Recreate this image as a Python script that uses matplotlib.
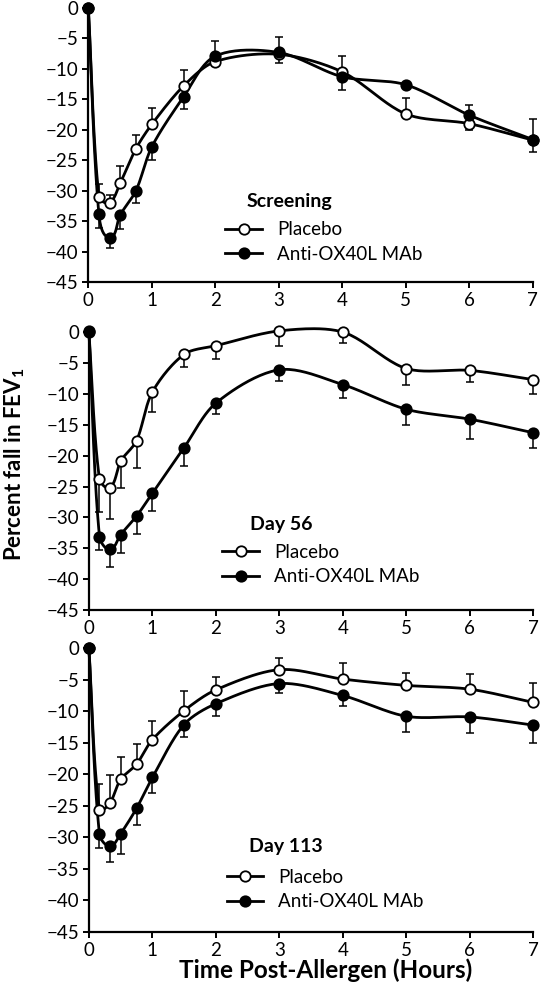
import numpy as np
import matplotlib.pyplot as plt
from matplotlib.lines import Line2D

plt.rcParams['font.family'] = ['Lato', 'DejaVu Sans']
plt.rcParams['mathtext.fontset'] = 'custom'
plt.rcParams['mathtext.rm'] = 'Lato'
plt.rcParams['mathtext.bf'] = 'Lato:bold'

# time points (hours)
hours = [0, 1/6, 1/3, 0.5, 0.75, 1, 1.5, 2, 3, 4, 5, 6, 7]

# Screening
scr_placebo = [0, -31.0, -32.0, -28.8, -23.1, -19.1, -12.8, -8.8, -7.6, -10.5, -17.4, -19.0, -21.7]
scr_placebo_lo = [0, 0, 0, 0, 0, 0, 0, 0.7, 1.4, 0, 0, 1.1, 0]
scr_placebo_hi = [0, 2.1, 1.3, 2.9, 2.2, 2.6, 2.6, 0, 0, 2.6, 2.6, 0, 3.5]
scr_anti = [0, -33.9, -37.7, -34.0, -30.0, -22.8, -14.6, -7.9, -7.3, -11.3, -12.6, -17.6, -21.6]
scr_anti_lo = [0, 2.2, 1.8, 2.3, 2.1, 2.2, 2.0, 0, 0, 2.1, 0, 0, 2.0]
scr_anti_hi = [0, 0, 0, 0, 0, 0, 0, 2.4, 2.5, 0, 0, 1.7, 0]

# Day 56
d56_placebo = [0, -23.8, -25.2, -20.9, -17.6, -9.7, -3.6, -2.2, 0.2, 0, -5.9, -6.2, -7.7]
d56_placebo_lo = [0, 5.3, 5.1, 4.3, 4.4, 3.2, 2.0, 2.2, 2.4, 1.8, 2.6, 1.8, 2.3]
d56_placebo_hi = [0] * 13
d56_anti = [0.2, -33.1, -35.2, -32.8, -29.8, -26.1, -18.7, -11.5, -6.1, -8.5, -12.5, -14.1, -16.3]
d56_anti_lo = [0, 2.2, 2.9, 3.0, 2.9, 2.8, 3.0, 1.8, 1.8, 2.2, 2.5, 3.2, 2.4]
d56_anti_hi = [0] * 13

# Day 113
d113_placebo = [0, -25.7, -24.5, -20.8, -18.4, -14.5, -9.9, -6.6, -3.4, -4.9, -5.9, -6.5, -8.6]
d113_placebo_lo = [0] * 13
d113_placebo_hi = [0, 4.1, 4.4, 3.5, 3.2, 2.9, 3.1, 2.0, 1.9, 2.6, 2.0, 2.4, 3.1]
d113_anti = [0, -29.5, -31.4, -29.4, -25.4, -20.5, -12.1, -8.8, -5.6, -7.5, -10.8, -10.9, -12.2]
d113_anti_lo = [0, 2.2, 2.5, 3.2, 2.7, 2.5, 2.0, 1.9, 1.5, 1.7, 2.5, 2.6, 2.9]
d113_anti_hi = [0] * 13

titles = ['Screening', 'Day 56', 'Day 113']
labels = ['Placebo', 'Anti-OX40L MAb']


def smooth(x, y, sx=63.6, sy=6.2, n=25, k=0.3):
    # bezier smoothing like Excel's smoothed lines; tangent length scaled
    # by segment length so the steep first drop doesn't overshoot
    P = np.column_stack([np.asarray(x) * sx, np.asarray(y) * sy])
    Pad = np.vstack([P[0], P, P[-1]])
    t = np.linspace(0, 1, n)[:, None]
    out = []
    for i in range(len(P) - 1):
        p0, p1, p2, p3 = Pad[i], Pad[i + 1], Pad[i + 2], Pad[i + 3]
        d = np.linalg.norm(p2 - p1)
        u1 = p2 - p0
        u2 = p3 - p1
        u1 = u1 / (np.linalg.norm(u1) or 1)
        u2 = u2 / (np.linalg.norm(u2) or 1)
        c1 = p1 + u1 * d * k
        c2 = p2 - u2 * d * k
        seg = (1 - t)**3 * p1 + 3 * (1 - t)**2 * t * c1 + 3 * (1 - t) * t**2 * c2 + t**3 * p2
        out.append(seg if i == 0 else seg[1:])
    pts = np.vstack(out)
    return pts[:, 0] / sx, pts[:, 1] / sy


panels = [
    (scr_placebo, scr_placebo_lo, scr_placebo_hi, scr_anti, scr_anti_lo, scr_anti_hi),
    (d56_placebo, d56_placebo_lo, d56_placebo_hi, d56_anti, d56_anti_lo, d56_anti_hi),
    (d113_placebo, d113_placebo_lo, d113_placebo_hi, d113_anti, d113_anti_lo, d113_anti_hi),
]

# axes rects in figure fraction
rects = [
    [0.163, 0.7149, 0.820, 0.277],
    [0.164, 0.3832, 0.820, 0.281],
    [0.164, 0.0576, 0.820, 0.287],
]
# (title x, title y, legend x, legend y) in axes fraction
leg_pos = [
    (0.357, 0.295, 0.308, 0.145),
    (0.362, 0.309, 0.300, 0.163),
    (0.360, 0.300, 0.310, 0.150),
]

fig = plt.figure(figsize=(5.42, 9.89), dpi=100)

for k, (pl, pl_lo, pl_hi, an, an_lo, an_hi) in enumerate(panels):
    ax = fig.add_axes(rects[k])

    ax.errorbar(hours, pl, yerr=[pl_lo, pl_hi], fmt='none', ecolor='black',
                elinewidth=1.1, capsize=3, capthick=1.1, clip_on=False, zorder=2)
    ax.errorbar(hours, an, yerr=[an_lo, an_hi], fmt='none', ecolor='black',
                elinewidth=1.1, capsize=3, capthick=1.1, clip_on=False, zorder=2)

    sx, sy = smooth(hours, pl)
    ax.plot(sx, sy, color='black', lw=2, clip_on=False, zorder=3)
    sx, sy = smooth(hours, an)
    ax.plot(sx, sy, color='black', lw=2, clip_on=False, zorder=3)

    ax.plot(hours, pl, 'o', ms=7.5, mfc='white', mec='black', mew=1.3,
            clip_on=False, zorder=4)
    ax.plot(hours, an, 'o', ms=7.5, mfc='black', mec='black', mew=1.3,
            clip_on=False, zorder=5)

    ax.set_xlim(0, 7)
    ax.set_ylim(-45, 0)
    ax.set_xticks(range(8))
    ax.set_yticks(np.arange(0, -46, -5))
    ax.spines['top'].set_visible(False)
    ax.spines['right'].set_visible(False)
    ax.spines['left'].set_linewidth(1.6)
    ax.spines['bottom'].set_linewidth(1.6)
    ax.tick_params(direction='out', length=4, width=1.4, labelsize=13.5, pad=3)

    tx, ty, lx, ly = leg_pos[k]
    ax.text(tx, ty, titles[k], transform=ax.transAxes, fontsize=14,
            fontweight='bold', va='center', ha='left')
    handles = [
        Line2D([], [], color='black', lw=2, marker='o', ms=7.5, mfc='white', mec='black', mew=1.3),
        Line2D([], [], color='black', lw=2, marker='o', ms=7.5, mfc='black', mec='black', mew=1.3),
    ]
    ax.legend(handles, labels, loc='center left', bbox_to_anchor=(lx, ly),
              frameon=False, fontsize=13.5, handlelength=1.95, handletextpad=0.8,
              labelspacing=0.4, borderpad=0, borderaxespad=0)

fig.text(0.028, 0.53, r'Percent fall in FEV$_\mathbf{1}$', rotation=90,
         fontsize=16, fontweight='bold', ha='center', va='center')
fig.text(0.60, 0.019, 'Time Post-Allergen (Hours)', fontsize=17.5,
         fontweight='bold', ha='center', va='center')

fig.savefig('out.png', dpi=100)
